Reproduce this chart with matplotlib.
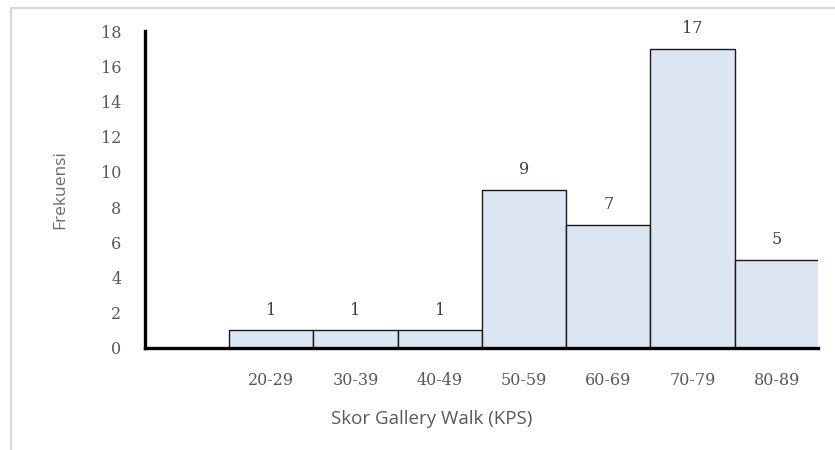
import matplotlib
matplotlib.use("Agg")
import matplotlib.pyplot as plt
from matplotlib.patches import Rectangle

# Frequency table of Gallery Walk scores
categories = ["", "20-29", "30-39", "40-49", "50-59", "60-69", "70-79", "80-89"]
frequencies = [0, 1, 1, 1, 9, 7, 17, 5]
y_ticks = [0, 2, 4, 6, 8, 10, 12, 14, 16, 18]

W, H = 835, 450
fig = plt.figure(figsize=(W / 100, H / 100), dpi=100)
fig.patch.set_facecolor("white")

# light grey frame around the chart area
fig.patches.append(Rectangle((11 / W, -0.2), 1.2, (H - 8) / H + 0.2,
                             transform=fig.transFigure, fill=False,
                             edgecolor="#d9d9d9", linewidth=1.6, zorder=0))

ax = fig.add_axes([145 / W, (H - 348) / H, (818 - 145) / W, (348 - 31) / H])

x = list(range(len(categories)))
for xi, val in zip(x, frequencies):
    if val == 0:
        continue
    ax.bar(xi, val, width=1.0, color="#dce6f2", edgecolor="#1a1a1a",
           linewidth=1.0, zorder=2)
    ax.annotate(str(val), (xi, val), xytext=(0, 14.5), textcoords="offset points",
                ha="center", va="center", fontsize=11.5, family="DejaVu Serif",
                color="#404040")

ax.set_xlim(-0.5, 7.49)
ax.set_ylim(0, 18)
ax.set_yticks(y_ticks)
ax.set_yticklabels([str(t) for t in y_ticks], family="DejaVu Serif",
                   fontsize=11.5, color="#595959")
ax.set_xticks(x)
ax.set_xticklabels(categories, family="DejaVu Serif", fontsize=11.5,
                   color="#595959")
ax.tick_params(axis="both", length=0)
ax.tick_params(axis="y", pad=17)
ax.tick_params(axis="x", pad=17)

for side in ["top", "right"]:
    ax.spines[side].set_visible(False)
for side in ["left", "bottom"]:
    ax.spines[side].set_linewidth(2.4)
    ax.spines[side].set_color("black")
    ax.spines[side].set_zorder(3)

ax.set_ylabel("Frekuensi", family="Open Sans", fontsize=12.5, color="#6b6b6b")
ax.set_xlabel("Skor Gallery Walk (KPS)", family="Open Sans", fontsize=13.5,
              color="#595959")
ax.xaxis.set_label_coords((432 - 145) / (818 - 145), -(419 - 348) / (348 - 31))
ax.xaxis.label.set_va("center")
ax.yaxis.set_label_coords(-(145 - 60) / (818 - 145), 0.5)
ax.yaxis.label.set_va("center")

fig.savefig("out.png", dpi=100)
